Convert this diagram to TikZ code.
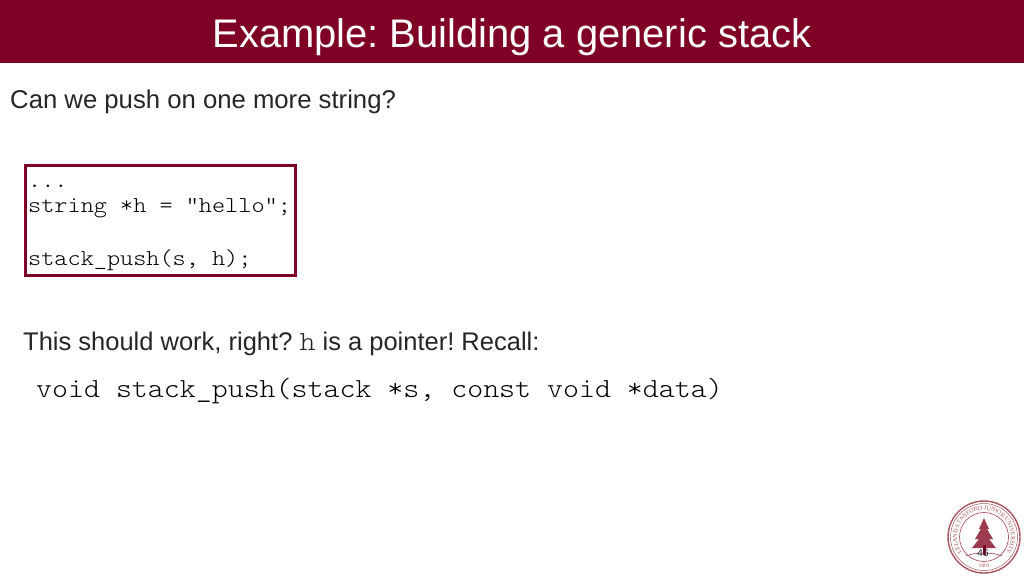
\documentclass[tikz,border=0pt]{standalone}
\usepackage{fontspec}
\usetikzlibrary{decorations.text}
\setmainfont{Liberation Sans}
\setmonofont[FakeStretch=1.1]{Latin Modern Mono Light}
\setsansfont{Liberation Serif}
\definecolor{cardinal}{HTML}{7F0025}
\definecolor{seal}{HTML}{A8545F}
\frenchspacing
\begin{document}
\begin{tikzpicture}[x=1pt,y=-1pt,
 lab/.style={anchor=base west,inner sep=0pt,text=black!85,font=\fontsize{25.7}{25.7}\selectfont},
 code/.style={anchor=base west,inner sep=0pt,text=black,font=\ttfamily\fontsize{22.75}{22.75}\selectfont},
 sig/.style={anchor=base west,inner sep=0pt,text=black,font=\ttfamily\fontsize{27.65}{27.65}\selectfont}]
\useasboundingbox (0,0) rectangle (1024,576);
\fill[cardinal] (0,0) rectangle (1024,63);
\node[anchor=base,inner sep=0pt,text=white,font=\fontsize{39.9}{39.9}\selectfont] (title) at (512,47) {Example: Building a generic stack};
\node[lab] (q) at (10,108) {Can we push on one more string?};
\node[draw=cardinal,line width=3pt,minimum width=270pt,minimum height=110pt,inner sep=0pt,anchor=north west] (box) at (24,163.5) {};
\node[code] (c1) at (28,187) {...};
\node[code] (c2) at (28,212) {string *h = "hello";};
\node[code] (c3) at (28,265) {stack\_push(s, h);};
\node[lab,font=\fontsize{25.5}{25.5}\selectfont] (t) at (23,350) {This should work, right? {\ttfamily\fontsize{27.65}{27.65}\selectfont h} is a pointer! Recall:};
\node[sig] (sig) at (36,397) {void stack\_push(stack *s, const void *data)};
% seal
\draw[seal,line width=1.4pt] (984,537) circle (36);
\draw[seal,line width=.5pt] (984,537) circle (33.5);
\draw[seal,line width=.7pt] (984,537) circle (24.5);
\begin{scope}[shift={(984,537)},x=1pt,y=1pt]
\path[decorate,decoration={text along path,text align=center,
  text={|\sffamily\fontsize{6}{6}\selectfont\color{seal}|LELAND STANFORD JUNIOR UNIVERSITY}}]
  (215:27) arc[start angle=215,end angle=-35,radius=27];
\end{scope}
\fill[seal!70!cardinal] (984,518) -- (989,529) -- (987,529) -- (993,539) -- (989,539) -- (996,548) -- (972,548) -- (979,539) -- (975,539) -- (981,529) -- (979,529) -- cycle;
\fill[cardinal] (982.5,545) rectangle (985.5,555);
\draw[seal,line width=.7pt] (966,556) .. controls (975,552) and (993,552) .. (1002,556);
\node[anchor=center,inner sep=0pt,text=seal,font=\sffamily\fontsize{5.5}{5.5}\selectfont] (yr) at (984,566) {1891};
\node[anchor=center,inner sep=0pt,text=black!85,font=\fontsize{10}{10}\selectfont] (num) at (983,553) {46};
\end{tikzpicture}
\end{document}
